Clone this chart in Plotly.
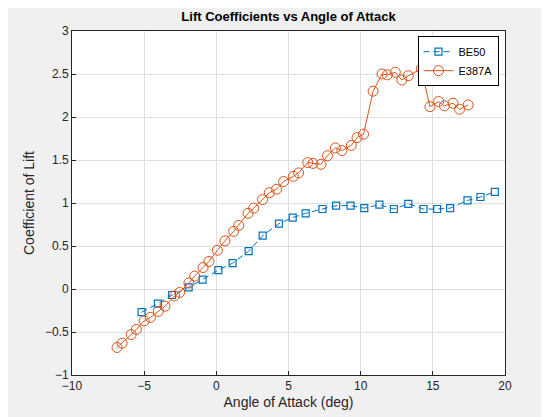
import plotly.graph_objs as go

# BE50 data
be50_aoa = [-5.18, -4.05, -3.07, -1.92, -0.95, 0.14, 1.13, 2.24, 3.21, 4.34, 5.29, 6.19,
            7.35, 8.3, 9.3, 10.25, 11.3, 12.3, 13.3, 14.35, 15.3, 16.2, 17.4, 18.3, 19.3]
be50_cl = [-0.27, -0.17, -0.07, 0.02, 0.11, 0.22, 0.30, 0.44, 0.62, 0.76, 0.83, 0.88,
           0.93, 0.97, 0.97, 0.94, 0.98, 0.93, 0.99, 0.93, 0.93, 0.94, 1.03, 1.07, 1.13]

# E387A data
e387_aoa = [-6.88, -6.53, -5.9, -5.54, -5.0, -4.57, -4.02, -3.56, -2.89, -2.54, -1.9, -1.5,
            -0.92, -0.51, 0.07, 0.6, 1.2, 1.55, 2.2, 2.59, 3.2, 3.67, 4.17, 4.66, 5.34, 5.7,
            6.33, 6.7, 7.25, 7.7, 8.25, 8.7, 9.35, 9.75, 10.2, 10.86, 11.48, 11.85, 12.4,
            12.85, 13.3, 14.2, 14.8, 15.4, 15.8, 16.4, 16.85, 17.45]
e387_cl = [-0.68, -0.63, -0.53, -0.47, -0.37, -0.33, -0.26, -0.2, -0.08, -0.04, 0.07, 0.15,
           0.25, 0.32, 0.45, 0.56, 0.67, 0.74, 0.88, 0.94, 1.04, 1.12, 1.16, 1.25, 1.31, 1.35,
           1.47, 1.46, 1.45, 1.55, 1.64, 1.61, 1.67, 1.76, 1.80, 2.30, 2.50, 2.49, 2.52,
           2.43, 2.48, 2.56, 2.12, 2.18, 2.13, 2.16, 2.09, 2.14]

blue = '#0072BD'
orange = '#D95319'

fig = go.Figure()

fig.add_trace(go.Scatter(x=be50_aoa, y=be50_cl, name='BE50', mode='lines+markers',
                         line=dict(color=blue, width=1, dash='6px,4px'),
                         marker=dict(symbol='square-open', size=7, color=blue, line=dict(width=1.2))))
fig.add_trace(go.Scatter(x=e387_aoa, y=e387_cl, name='E387A', mode='lines+markers',
                         line=dict(color=orange, width=1),
                         marker=dict(symbol='circle-open', size=10, color=orange, line=dict(width=1))))

axis_style = dict(showgrid=True, gridcolor='#dfdfdf', zeroline=False, showline=True,
                  linecolor='#262626', mirror=True, ticks='inside', ticklen=4,
                  tickcolor='#262626', tickfont=dict(size=12, color='#262626'))

fig.update_layout(
    width=549, height=417,
    paper_bgcolor='#f0f0f0', plot_bgcolor='white',
    font=dict(family='Arial, Liberation Sans, sans-serif', color='#262626'),
    title=dict(text='<b>Lift Coefficients vs Angle of Attack</b>', x=0.5, xanchor='center',
               xref='paper', y=0.99, yanchor='top', font=dict(size=13, color='black')),
    margin=dict(l=64, r=52, t=23, b=50),
    showlegend=True,
    legend=dict(x=0.985, y=0.985, xanchor='right', yanchor='top', bgcolor='white',
                bordercolor='black', borderwidth=1, font=dict(size=11, color='black'),
                tracegroupgap=0),
)
fig.update_xaxes(range=[-10, 20], dtick=5, title=dict(text='Angle of Attack (deg)', standoff=4,
                 font=dict(size=14)), **axis_style)
fig.update_yaxes(range=[-1, 3], dtick=0.5, tickformat='~g',
                 title=dict(text='Coefficient of Lift', standoff=6, font=dict(size=14)), **axis_style)

fig.write_html("out.html")
